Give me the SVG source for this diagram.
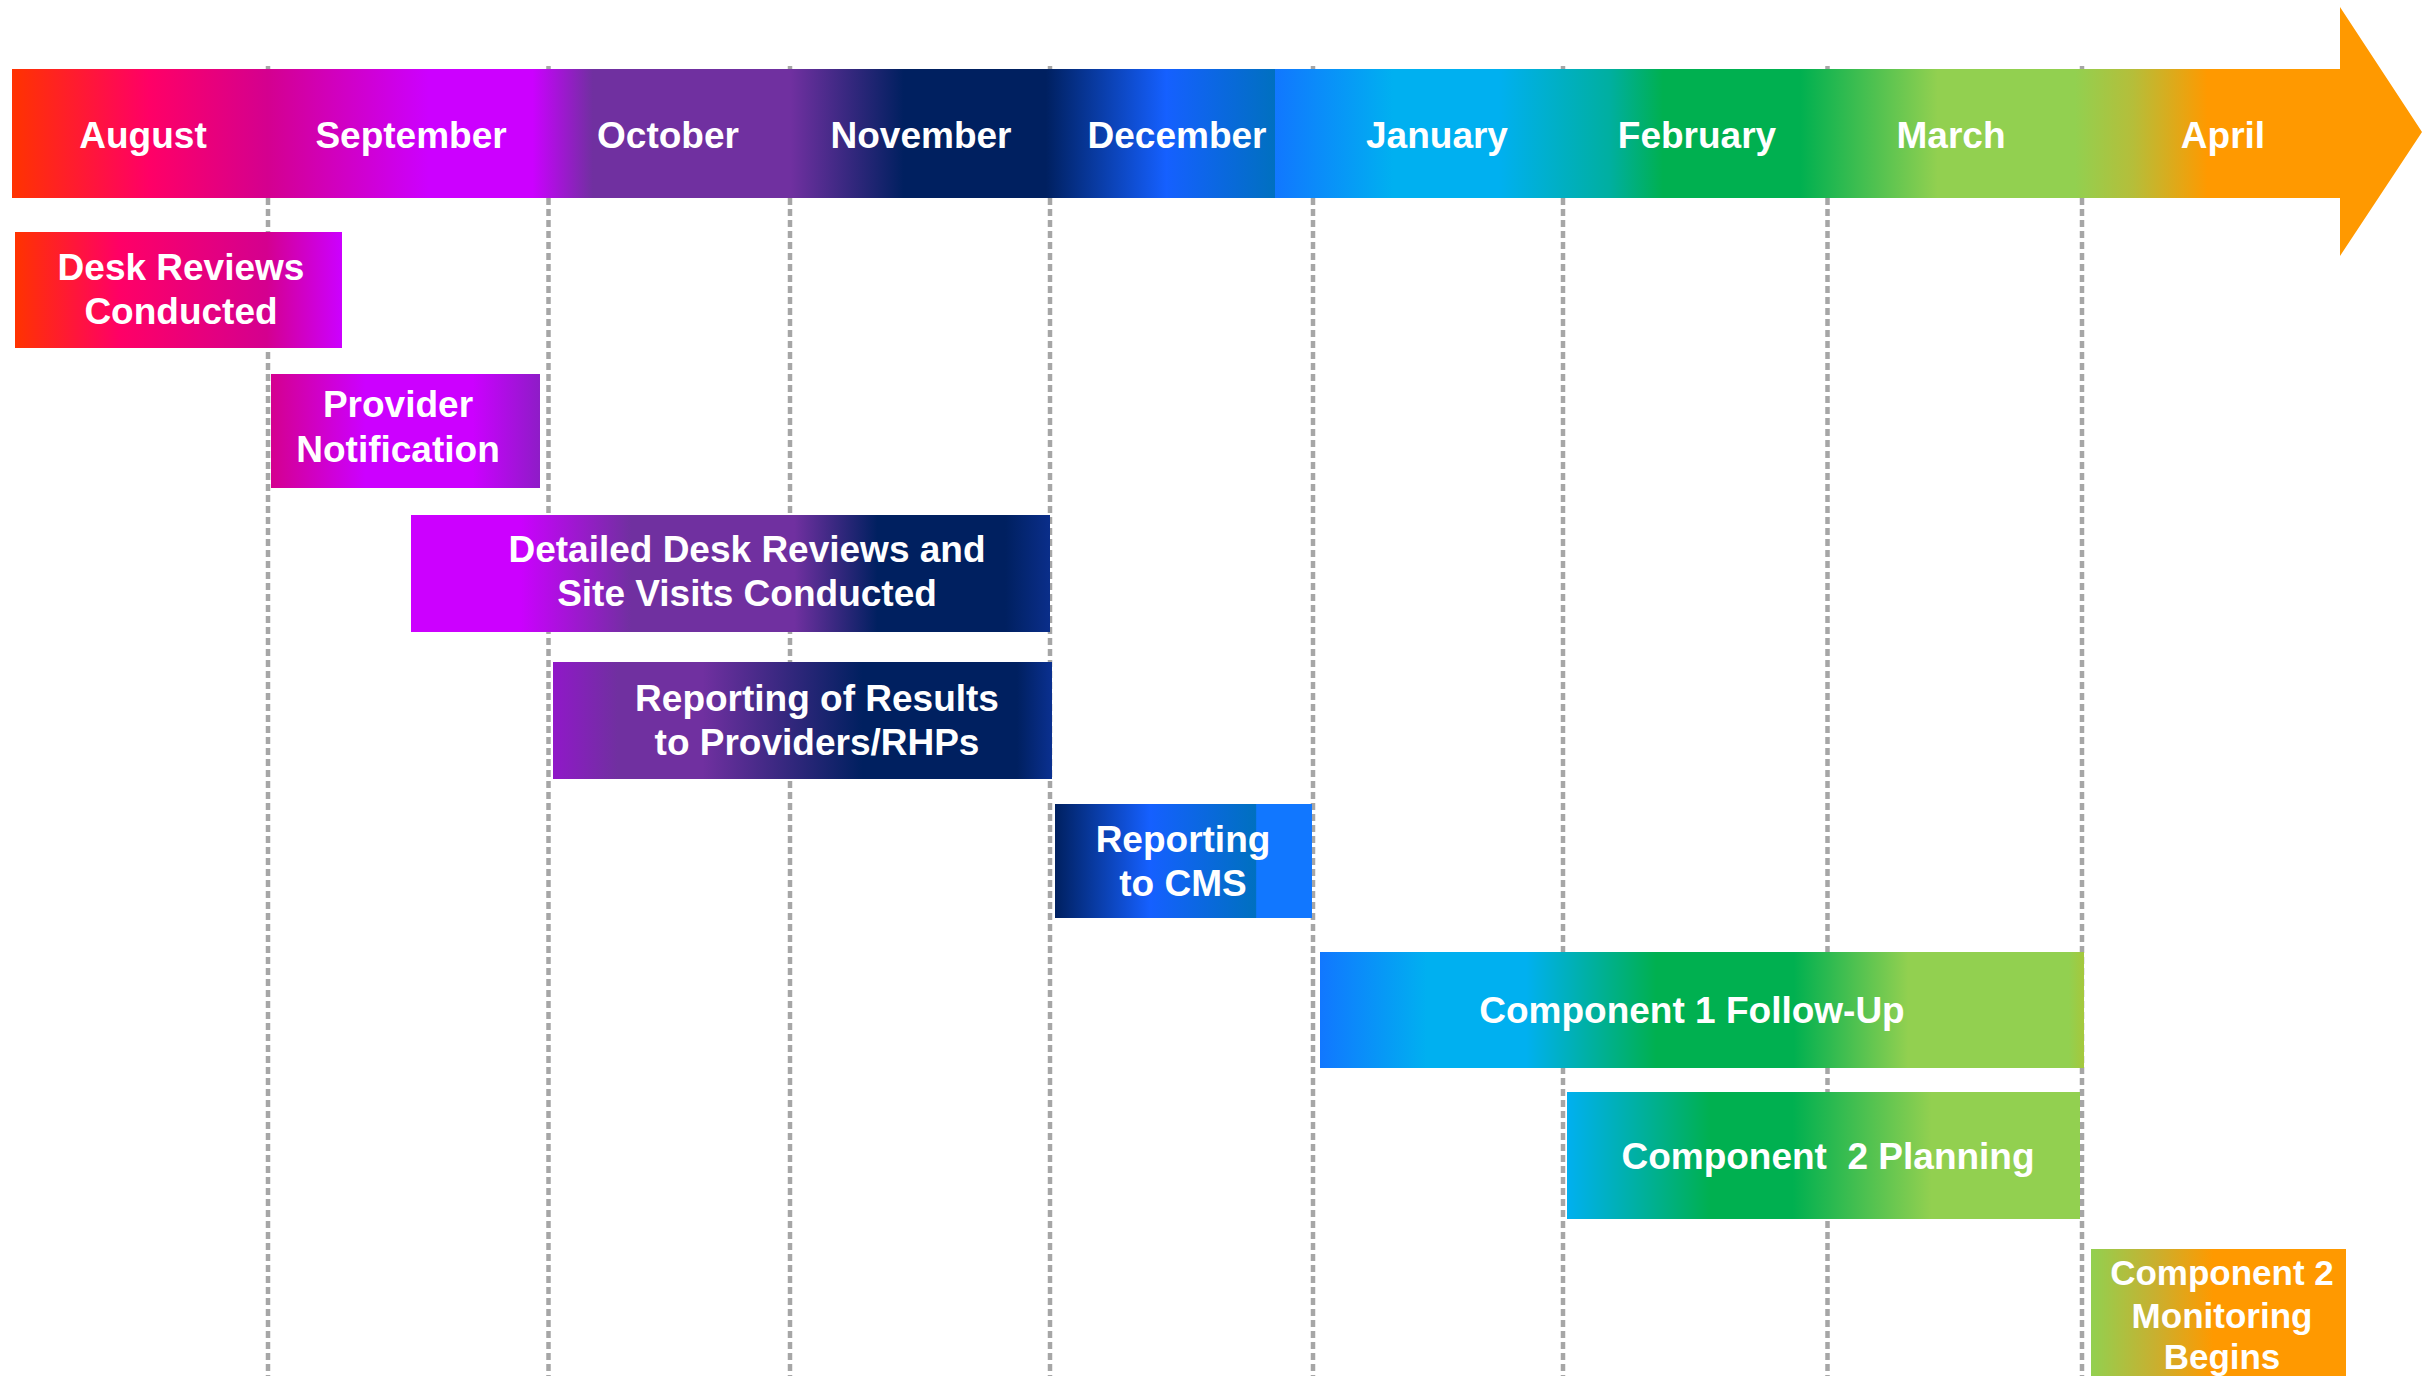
<svg xmlns="http://www.w3.org/2000/svg" width="2428" height="1376" viewBox="0 0 2428 1376">
<defs>
<style>
.grid{stroke:#A6A6A6;stroke-width:4.5;stroke-dasharray:7 4;fill:none}
.t{font-family:"Liberation Sans",Arial,sans-serif;font-weight:bold;fill:#FFFFFF;text-anchor:middle}
.m{font-size:37px}
.b{font-size:37px}
.s{font-size:35px}
</style>
<linearGradient id="gBar" gradientUnits="userSpaceOnUse" x1="12" y1="0" x2="2422" y2="0">
<stop offset="0" stop-color="#FF3300"/>
<stop offset="0.057" stop-color="#FF0066"/>
<stop offset="0.106" stop-color="#D4008F"/>
<stop offset="0.173" stop-color="#CC00FF"/>
<stop offset="0.216" stop-color="#CC00FF"/>
<stop offset="0.241" stop-color="#7030A0"/>
<stop offset="0.323" stop-color="#7030A0"/>
<stop offset="0.370" stop-color="#002060"/>
<stop offset="0.429" stop-color="#002060"/>
<stop offset="0.479" stop-color="#1560FF"/>
<stop offset="0.524" stop-color="#0070C0"/>
<stop offset="0.524" stop-color="#1177FF"/>
<stop offset="0.573" stop-color="#00B0F0"/>
<stop offset="0.617" stop-color="#00B0F0"/>
<stop offset="0.663" stop-color="#00AFA0"/>
<stop offset="0.685" stop-color="#00B050"/>
<stop offset="0.742" stop-color="#00B050"/>
<stop offset="0.799" stop-color="#92D050"/>
<stop offset="0.856" stop-color="#92D050"/>
<stop offset="0.880" stop-color="#B5BE3A"/>
<stop offset="0.911" stop-color="#FF9900"/>
<stop offset="1" stop-color="#FF9900"/>
</linearGradient>
<linearGradient id="g1" gradientUnits="userSpaceOnUse" x1="15" y1="0" x2="342" y2="0">
<stop offset="0" stop-color="#FF3300"/>
<stop offset="0.32" stop-color="#FF0066"/>
<stop offset="0.77" stop-color="#D4008F"/>
<stop offset="1" stop-color="#CC00FF"/>
</linearGradient>
<linearGradient id="g2" gradientUnits="userSpaceOnUse" x1="271" y1="0" x2="540" y2="0">
<stop offset="0" stop-color="#D4008F"/>
<stop offset="0.35" stop-color="#CC00FF"/>
<stop offset="0.75" stop-color="#CC00FF"/>
<stop offset="1" stop-color="#8E1CC7"/>
</linearGradient>
<linearGradient id="g3" gradientUnits="userSpaceOnUse" x1="411" y1="0" x2="1050" y2="0">
<stop offset="0" stop-color="#CC00FF"/>
<stop offset="0.17" stop-color="#CC00FF"/>
<stop offset="0.345" stop-color="#7030A0"/>
<stop offset="0.6" stop-color="#7030A0"/>
<stop offset="0.73" stop-color="#002060"/>
<stop offset="0.93" stop-color="#002060"/>
<stop offset="1" stop-color="#0A2E8A"/>
</linearGradient>
<linearGradient id="g4" gradientUnits="userSpaceOnUse" x1="553" y1="0" x2="1052" y2="0">
<stop offset="0" stop-color="#9018C8"/>
<stop offset="0.13" stop-color="#7030A0"/>
<stop offset="0.3" stop-color="#7030A0"/>
<stop offset="0.62" stop-color="#002060"/>
<stop offset="0.93" stop-color="#002060"/>
<stop offset="1" stop-color="#0A3090"/>
</linearGradient>
<linearGradient id="g5" gradientUnits="userSpaceOnUse" x1="1055" y1="0" x2="1312" y2="0">
<stop offset="0" stop-color="#002060"/>
<stop offset="0.37" stop-color="#1560FF"/>
<stop offset="0.78" stop-color="#0070C0"/>
<stop offset="0.785" stop-color="#1177FF"/>
<stop offset="1" stop-color="#1177FF"/>
</linearGradient>
<linearGradient id="g6" gradientUnits="userSpaceOnUse" x1="1320" y1="0" x2="2084" y2="0">
<stop offset="0" stop-color="#1177FF"/>
<stop offset="0.14" stop-color="#00B0F0"/>
<stop offset="0.27" stop-color="#00B0F0"/>
<stop offset="0.44" stop-color="#00B050"/>
<stop offset="0.62" stop-color="#00B050"/>
<stop offset="0.77" stop-color="#92D050"/>
<stop offset="0.98" stop-color="#92D050"/>
<stop offset="1" stop-color="#A5C83C"/>
</linearGradient>
<linearGradient id="g7" gradientUnits="userSpaceOnUse" x1="1567" y1="0" x2="2080" y2="0">
<stop offset="0" stop-color="#00B0F0"/>
<stop offset="0.28" stop-color="#00B050"/>
<stop offset="0.44" stop-color="#00B050"/>
<stop offset="0.71" stop-color="#92D050"/>
<stop offset="1" stop-color="#92D050"/>
</linearGradient>
<linearGradient id="g8" gradientUnits="userSpaceOnUse" x1="2091" y1="0" x2="2346" y2="0">
<stop offset="0" stop-color="#92D050"/>
<stop offset="0.25" stop-color="#C8B030"/>
<stop offset="0.48" stop-color="#FF9900"/>
<stop offset="1" stop-color="#FF9900"/>
</linearGradient>
</defs>
<rect width="2428" height="1376" fill="#FFFFFF"/>
<g id="gridlines">
<line class="grid" x1="268" y1="66" x2="268" y2="1376"/>
<line class="grid" x1="548.5" y1="66" x2="548.5" y2="1376"/>
<line class="grid" x1="790" y1="66" x2="790" y2="1376"/>
<line class="grid" x1="1050" y1="66" x2="1050" y2="1376"/>
<line class="grid" x1="1313" y1="66" x2="1313" y2="1376"/>
<line class="grid" x1="1563" y1="66" x2="1563" y2="1376"/>
<line class="grid" x1="1827.5" y1="66" x2="1827.5" y2="1376"/>
<line class="grid" x1="2082" y1="66" x2="2082" y2="1376"/>
</g>
<g id="timeline">
<polygon points="12,69 2340,69 2340,7 2422,132 2340,256 2340,198 12,198" fill="url(#gBar)"/>
<text class="t m" x="143" y="148">August</text>
<text class="t m" x="411" y="148">September</text>
<text class="t m" x="668" y="148">October</text>
<text class="t m" x="921" y="148">November</text>
<text class="t m" x="1177" y="148">December</text>
<text class="t m" x="1437" y="148">January</text>
<text class="t m" x="1697" y="148">February</text>
<text class="t m" x="1951" y="148">March</text>
<text class="t m" x="2223" y="148">April</text>
</g>
<g id="desk-reviews">
<rect x="15" y="232" width="327" height="116" fill="url(#g1)"/>
<text class="t b" x="181" y="280">Desk Reviews</text>
<text class="t b" x="181" y="324">Conducted</text>
</g>
<g id="provider-notification">
<rect x="271" y="374" width="269" height="114" fill="url(#g2)"/>
<text class="t b" x="398" y="417">Provider</text>
<text class="t b" x="398" y="462">Notification</text>
</g>
<g id="detailed-reviews">
<rect x="411" y="515" width="639" height="117" fill="url(#g3)"/>
<text class="t b" x="747" y="562">Detailed Desk Reviews and</text>
<text class="t b" x="747" y="606">Site Visits Conducted</text>
</g>
<g id="reporting-results">
<rect x="553" y="662" width="499" height="117" fill="url(#g4)"/>
<text class="t b" x="817" y="711">Reporting of Results</text>
<text class="t b" x="817" y="755">to Providers/RHPs</text>
</g>
<g id="reporting-cms">
<rect x="1055" y="804" width="257" height="114" fill="url(#g5)"/>
<text class="t b" x="1183" y="852">Reporting</text>
<text class="t b" x="1183" y="896">to CMS</text>
</g>
<g id="component1-followup">
<rect x="1320" y="952" width="764" height="116" fill="url(#g6)"/>
<text class="t b" x="1692" y="1023">Component 1 Follow-Up</text>
</g>
<g id="component2-planning">
<rect x="1567" y="1092" width="513" height="127" fill="url(#g7)"/>
<text class="t b" x="1828" y="1169" xml:space="preserve">Component  2 Planning</text>
</g>
<g id="component2-monitoring">
<rect x="2091" y="1249" width="255" height="140" fill="url(#g8)"/>
<text class="t s" x="2222" y="1285">Component 2</text>
<text class="t s" x="2222" y="1328">Monitoring</text>
<text class="t s" x="2222" y="1369">Begins</text>
</g>
</svg>
